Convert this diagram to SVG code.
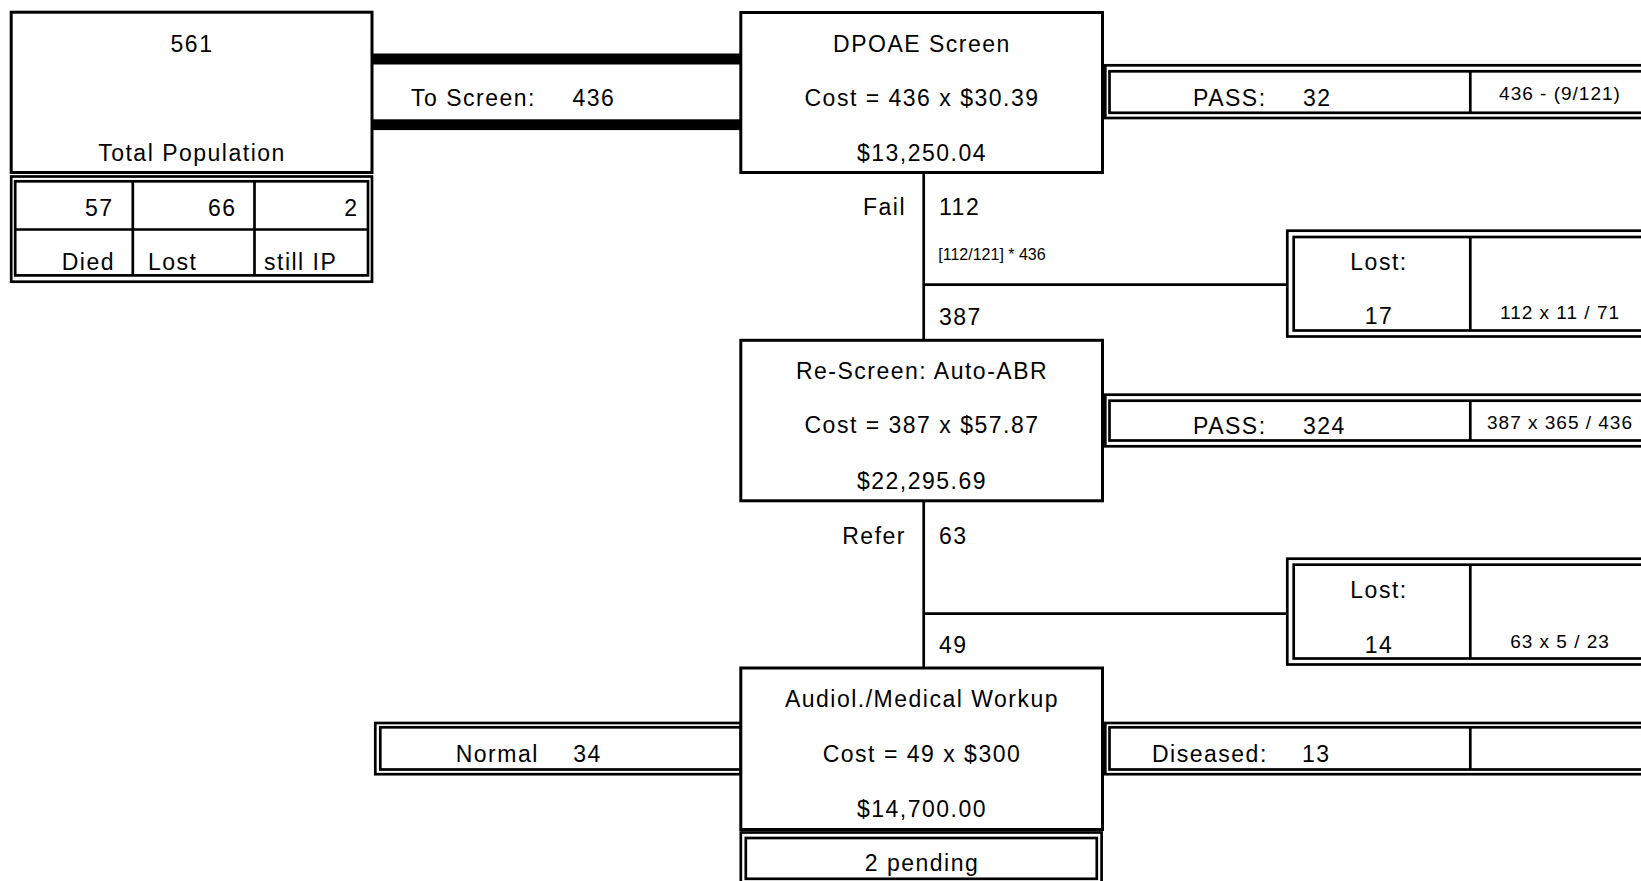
<svg xmlns="http://www.w3.org/2000/svg" width="1641" height="881" viewBox="0 0 1641 881">
<style>
.t{font-family:"Liberation Sans",Arial,sans-serif;font-size:23px;letter-spacing:1.5px;fill:#000}
.s{font-size:19px;letter-spacing:1px}
.xs{font-size:16px;letter-spacing:0px}
.m{text-anchor:middle}
.e{text-anchor:end}
.box{fill:#fff;stroke:#000;stroke-width:3}
.tb{fill:#fff;stroke:#000;stroke-width:2.7}
.ln{fill:none;stroke:#000;stroke-width:2.7}
</style>
<rect width="1641" height="881" fill="#fff"/>

<g id="connectors">
  <rect x="372" y="53.5" width="369" height="11" fill="#000"/>
  <rect x="372" y="119.3" width="369" height="10.8" fill="#000"/>
  <line class="ln" x1="923.7" y1="172.5" x2="923.7" y2="340.3"/>
  <line class="ln" x1="923.7" y1="284.7" x2="1287.3" y2="284.7"/>
  <line class="ln" x1="923.7" y1="500.8" x2="923.7" y2="668"/>
  <line class="ln" x1="923.7" y1="613.7" x2="1287.3" y2="613.7"/>
  <text class="t" x="411" y="105.5">To Screen:</text>
  <text class="t" x="572.5" y="105.5">436</text>
  <text class="t e" x="906" y="215">Fail</text>
  <text class="t" x="939" y="215">112</text>
  <text class="t xs" x="938.3" y="260">[112/121] * 436</text>
  <text class="t" x="939" y="325">387</text>
  <text class="t e" x="906" y="543.5">Refer</text>
  <text class="t" x="939" y="543.5">63</text>
  <text class="t" x="939" y="653">49</text>
</g>

<g id="total-population">
  <rect class="box" x="11.2" y="12.2" width="360.8" height="160.3"/>
  <text class="t m" x="192" y="52">561</text>
  <text class="t m" x="192" y="161">Total Population</text>
</g>

<g id="outcomes-table">
  <rect class="tb" x="11.2" y="176.5" width="360.8" height="105.2"/>
  <rect class="tb" x="15.2" y="181.3" width="352.8" height="94.1"/>
  <line class="ln" x1="15.2" y1="229.5" x2="368" y2="229.5"/>
  <line class="ln" x1="132.8" y1="181.3" x2="132.8" y2="275.4"/>
  <line class="ln" x1="254.5" y1="181.3" x2="254.5" y2="275.4"/>
  <text class="t e" x="113.5" y="215.5">57</text>
  <text class="t e" x="236.5" y="215.5">66</text>
  <text class="t e" x="358.5" y="215.5">2</text>
  <text class="t e" x="115" y="269.5">Died</text>
  <text class="t" x="148" y="269.5">Lost</text>
  <text class="t" x="264" y="269.5">still IP</text>
</g>

<g id="pass1">
  <rect class="tb" x="1105.3" y="65.3" width="560" height="52.7"/>
  <rect class="tb" x="1109.5" y="71.3" width="560" height="41.5"/>
  <line class="ln" x1="1470.3" y1="71.3" x2="1470.3" y2="112.8"/>
  <text class="t" x="1193" y="106">PASS:</text>
  <text class="t" x="1303" y="106">32</text>
  <text class="t s m" x="1560" y="100">436 - (9/121)</text>
</g>

<g id="dpoae">
  <rect class="box" x="740.8" y="12.5" width="361.7" height="160"/>
  <text class="t m" x="922" y="51.5">DPOAE Screen</text>
  <text class="t m" x="922" y="105.5">Cost = 436 x $30.39</text>
  <text class="t m" x="922" y="161">$13,250.04</text>
</g>

<g id="lost1">
  <rect class="tb" x="1287.3" y="230.7" width="380" height="105.8"/>
  <rect class="tb" x="1293.7" y="237" width="380" height="93.5"/>
  <line class="ln" x1="1470.3" y1="237" x2="1470.3" y2="330.5"/>
  <text class="t m" x="1379" y="270">Lost:</text>
  <text class="t m" x="1379" y="324">17</text>
  <text class="t s m" x="1560" y="319.3">112 x 11 / 71</text>
</g>

<g id="pass2">
  <rect class="tb" x="1105.3" y="394.7" width="560" height="51.6"/>
  <rect class="tb" x="1109.5" y="400.7" width="560" height="39.8"/>
  <line class="ln" x1="1470.3" y1="400.7" x2="1470.3" y2="440.5"/>
  <text class="t" x="1193" y="434">PASS:</text>
  <text class="t" x="1303" y="434">324</text>
  <text class="t s m" x="1560" y="429">387 x 365 / 436</text>
</g>

<g id="rescreen">
  <rect class="box" x="740.8" y="340.3" width="361.7" height="160.5"/>
  <text class="t m" x="922" y="379.3">Re-Screen: Auto-ABR</text>
  <text class="t m" x="922" y="433.3">Cost = 387 x $57.87</text>
  <text class="t m" x="922" y="489">$22,295.69</text>
</g>

<g id="lost2">
  <rect class="tb" x="1287.3" y="558.7" width="380" height="105.8"/>
  <rect class="tb" x="1293.7" y="564.7" width="380" height="93.8"/>
  <line class="ln" x1="1470.3" y1="564.7" x2="1470.3" y2="658.5"/>
  <text class="t m" x="1379" y="598.3">Lost:</text>
  <text class="t m" x="1379" y="652.7">14</text>
  <text class="t s m" x="1560" y="647.7">63 x 5 / 23</text>
</g>

<g id="normal">
  <rect class="tb" x="375.3" y="723" width="365.5" height="51.2"/>
  <rect class="tb" x="380.3" y="727.3" width="360.5" height="42.2"/>
  <text class="t" x="455.7" y="761.7">Normal</text>
  <text class="t" x="573.3" y="761.7">34</text>
</g>

<g id="diseased">
  <rect class="tb" x="1105.3" y="723" width="560" height="51.2"/>
  <rect class="tb" x="1109.5" y="727.3" width="560" height="42.2"/>
  <line class="ln" x1="1470.3" y1="727.3" x2="1470.3" y2="769.5"/>
  <text class="t" x="1152" y="761.7">Diseased:</text>
  <text class="t" x="1302" y="761.7">13</text>
</g>

<g id="workup">
  <rect class="box" x="740.8" y="668" width="361.7" height="161.5"/>
  <text class="t m" x="922" y="707">Audiol./Medical Workup</text>
  <text class="t m" x="922" y="761.7">Cost = 49 x $300</text>
  <text class="t m" x="922" y="817">$14,700.00</text>
</g>

<g id="pending">
  <rect class="tb" x="740.8" y="832.5" width="360.8" height="55"/>
  <rect class="tb" x="745.8" y="838" width="351" height="40.8"/>
  <text class="t m" x="922" y="870.7">2 pending</text>
</g>
</svg>
